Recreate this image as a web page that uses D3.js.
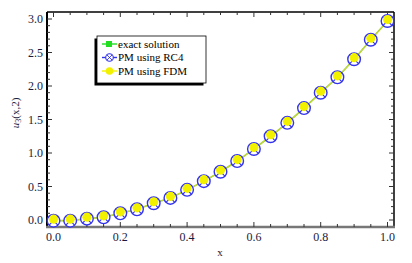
<!DOCTYPE html>
<html><head><meta charset="utf-8">
<script src="https://cdn.jsdelivr.net/npm/d3@7"></script>
<style>body{margin:0;background:#fff}svg{display:block}</style>
</head><body>
<svg id="c" width="412" height="263"></svg>
<script>
const xs = [0,0.05,0.1,0.15,0.2,0.25,0.3,0.35,0.4,0.45,0.5,0.55,0.6,0.65,0.7,0.75,0.8,0.85,0.9,0.95,1.0];
const exact = [-0.01,-0.01,0.02,0.04,0.1,0.16,0.25,0.33,0.45,0.58,0.72,0.88,1.06,1.25,1.45,1.67,1.9,2.13,2.4,2.69,2.97];
const rc4 = [-0.01,-0.01,0.02,0.04,0.1,0.16,0.25,0.33,0.45,0.58,0.72,0.88,1.06,1.25,1.45,1.67,1.9,2.13,2.4,2.69,2.97];
const fdm = [-0.01,-0.01,0.02,0.04,0.1,0.16,0.25,0.33,0.45,0.58,0.72,0.88,1.06,1.25,1.45,1.67,1.9,2.13,2.4,2.69,2.97];
const xTicks = [0,0.2,0.4,0.6,0.8,1.0];
const yTicks = [0,0.5,1.0,1.5,2.0,2.5,3.0];
const legendLabels = ["exact solution","PM using RC4","PM using FDM"];

const svg = d3.select("#c");
const L=47, R=394, T=12, B=227;
const x = d3.scaleLinear().domain([0,1]).range([53.5,387.5]);
const y = d3.scaleLinear().domain([0,3]).range([220,19]);
const font = "'Liberation Serif','DejaVu Serif',serif";
const tcol = "#1a1a40";

// frame
svg.append("line").attr("x1",L).attr("x2",R).attr("y1",T).attr("y2",T).attr("stroke","#000").attr("stroke-width",1.5);
svg.append("line").attr("x1",R).attr("x2",R).attr("y1",T).attr("y2",B).attr("stroke","#000").attr("stroke-width",1.5);
svg.append("line").attr("x1",L).attr("x2",L).attr("y1",T).attr("y2",B).attr("stroke","#000").attr("stroke-width",2);
svg.append("line").attr("x1",L-1).attr("x2",R+1).attr("y1",B).attr("y2",B).attr("stroke","#777").attr("stroke-width",2.5);

// ticks
const xMinor = d3.range(0,1.0001,0.05);
xMinor.forEach(v=>{
  const major = xTicks.some(t=>Math.abs(t-v)<1e-6);
  const len = major?5:3;
  svg.append("line").attr("x1",x(v)).attr("x2",x(v)).attr("y1",B).attr("y2",B-len).attr("stroke","#333").attr("stroke-width",1);
  svg.append("line").attr("x1",x(v)).attr("x2",x(v)).attr("y1",T).attr("y2",T+len).attr("stroke","#333").attr("stroke-width",1);
});
const yMinor = d3.range(0,3.0001,0.1);
yMinor.forEach(v=>{
  const major = yTicks.some(t=>Math.abs(t-v)<1e-6);
  const len = major?5:3;
  svg.append("line").attr("x1",L).attr("x2",L+len).attr("y1",y(v)).attr("y2",y(v)).attr("stroke","#333").attr("stroke-width",1);
  svg.append("line").attr("x1",R).attr("x2",R-len).attr("y1",y(v)).attr("y2",y(v)).attr("stroke","#333").attr("stroke-width",1);
});
// tick labels
svg.selectAll(".xl").data(xTicks).enter().append("text")
  .attr("x",d=>x(d)).attr("y",241).attr("text-anchor","middle")
  .attr("font-family",font).attr("font-size",12).attr("fill",tcol).text(d=>d3.format(".1f")(d));
svg.selectAll(".yl").data(yTicks).enter().append("text")
  .attr("x",43).attr("y",d=>y(d)+4).attr("text-anchor","end")
  .attr("font-family",font).attr("font-size",12).attr("fill",tcol).text(d=>d3.format(".1f")(d));
// axis titles
svg.append("text").attr("x",220).attr("y",256).attr("text-anchor","middle")
  .attr("font-family",font).attr("font-size",11).attr("fill",tcol).text("x");
const yt = svg.append("text").attr("transform","translate(19,113) rotate(-90)").attr("text-anchor","middle")
  .attr("font-family",font).attr("font-size",11).attr("fill",tcol);
yt.append("tspan").attr("font-style","italic").text("u");
yt.append("tspan").attr("font-size",8).attr("dy",2).text("3");
yt.append("tspan").attr("dy",-2).text("(x,2)");

const green="#22dd22", blue="#3333ee", yellow="#f2f200";
// lines
const line = d3.line().x((d,i)=>x(xs[i])).y(d=>y(d));
svg.append("path").datum(exact).attr("d",line).attr("fill","none").attr("stroke","#9ccc30").attr("stroke-width",1.6);
svg.append("path").datum(fdm).attr("d",line).attr("fill","none").attr("stroke","#d4e030").attr("stroke-width",0.8);

// markers
const pts = xs.map((v,i)=>({x:v,e:exact[i],r:rc4[i],f:fdm[i]}));
svg.selectAll(".sq").data(pts).enter().append("rect")
  .attr("x",d=>x(d.x)-3).attr("y",d=>y(d.e)-3).attr("width",6).attr("height",6).attr("fill",green);
const g = svg.selectAll(".rc").data(pts).enter().append("g").attr("transform",d=>`translate(${x(d.x)},${y(d.r)})`);
g.append("circle").attr("r",6.3).attr("fill","#fff").attr("stroke",blue).attr("stroke-width",1.4);
g.append("path").attr("d","M-4.4,-4.4L4.4,4.4M-4.4,4.4L4.4,-4.4").attr("stroke",blue).attr("stroke-width",1.1);
svg.selectAll(".fd").data(pts).enter().append("circle")
  .attr("cx",d=>x(d.x)).attr("cy",d=>y(d.f)-1.5).attr("r",4.6).attr("fill",yellow);

// legend
const lx=97, ly=36, lw=109, lh=47;
svg.append("rect").attr("x",lx-2.5).attr("y",ly+2.5).attr("width",lw).attr("height",lh).attr("fill","#000");
svg.append("rect").attr("x",lx).attr("y",ly).attr("width",lw).attr("height",lh).attr("fill","#fff").attr("stroke","#000").attr("stroke-width",0.8);
const rowsY=[44,57.5,71];
const cols=[green,blue,yellow];
legendLabels.forEach((lab,i)=>{
  const yy=rowsY[i];
  svg.append("line").attr("x1",102).attr("x2",117).attr("y1",yy).attr("y2",yy).attr("stroke",cols[i]).attr("stroke-width",1.4);
  if(i===0){
    svg.append("rect").attr("x",106).attr("y",yy-3).attr("width",6).attr("height",6).attr("fill",green);
  } else if(i===1){
    svg.append("circle").attr("cx",109.5).attr("cy",yy).attr("r",3.8).attr("fill","#fff").attr("stroke",blue).attr("stroke-width",1.1);
    svg.append("path").attr("d",`M${106.8},${yy-2.7}L${112.2},${yy+2.7}M${106.8},${yy+2.7}L${112.2},${yy-2.7}`).attr("stroke",blue).attr("stroke-width",0.9);
  } else {
    svg.append("circle").attr("cx",109.5).attr("cy",yy).attr("r",3.8).attr("fill",yellow);
  }
  svg.append("text").attr("x",118).attr("y",yy+3.8).attr("font-family",font).attr("font-size",11).attr("fill","#000").text(lab);
});
</script>
</body></html>
